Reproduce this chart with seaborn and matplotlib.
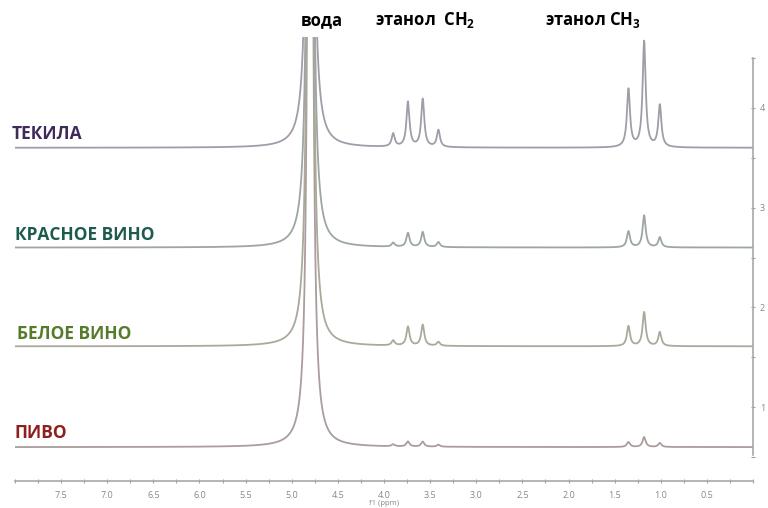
import numpy as np
import pandas as pd
import seaborn as sns
from matplotlib import pyplot as plt
from matplotlib.ticker import MultipleLocator, FormatStrFormatter

# Samples, bottom to top
samples = ['ПИВО', 'БЕЛОЕ ВИНО', 'КРАСНОЕ ВИНО', 'ТЕКИЛА']
baselines = [0.60, 1.61, 2.60, 3.60]
label_colors = ['#8e1f1f', '#577a2c', '#1c5b4e', '#3f2a5c']
trace_colors = ['#aa9d9b', '#aaa99c', '#9ca6a2', '#a29ca9']

# Peak positions (ppm)
water_ppm = 4.80
ch2_ppm = [3.90, 3.74, 3.58, 3.41]
ch3_ppm = [1.35, 1.18, 1.01]

# Peak heights per sample (same order as samples)
water_height = [17.0, 17.0, 17.0, 17.0]
ch2_heights = [
    [0.02, 0.05, 0.05, 0.02],
    [0.05, 0.19, 0.21, 0.04],
    [0.04, 0.14, 0.15, 0.05],
    [0.13, 0.45, 0.48, 0.17],
]
ch3_heights = [
    [0.05, 0.10, 0.04],
    [0.20, 0.34, 0.14],
    [0.16, 0.32, 0.10],
    [0.58, 1.06, 0.42],
]

xtick_vals = [7.5, 7.0, 6.5, 6.0, 5.5, 5.0, 4.5, 4.0, 3.5, 3.0, 2.5, 2.0, 1.5, 1.0, 0.5]
ytick_vals = [1, 2, 3, 4]


def lorentz(x, x0, h, w):
    return h * w ** 2 / ((x - x0) ** 2 + w ** 2)


ppm = np.linspace(0.0, 8.0, 8001)
frames = []
for i, name in enumerate(samples):
    y = np.full_like(ppm, baselines[i])
    y += lorentz(ppm, water_ppm, water_height[i], 0.02)
    for p, h in zip(ch2_ppm, ch2_heights[i]):
        y += lorentz(ppm, p, h, 0.02)
    for p, h in zip(ch3_ppm, ch3_heights[i]):
        y += lorentz(ppm, p, h, 0.02)
    frames.append(pd.DataFrame({'ppm': ppm, 'intensity': y, 'sample': name}))
df = pd.concat(frames, ignore_index=True)

sns.set_theme(style='white')
plt.rcParams['font.family'] = ['Open Sans', 'DejaVu Sans']
plt.rcParams['mathtext.fontset'] = 'custom'
plt.rcParams['mathtext.rm'] = 'Open Sans'
plt.rcParams['mathtext.bf'] = 'Open Sans:bold'

fig = plt.figure(figsize=(7.68, 5.08), dpi=100)
ax = fig.add_axes([0.0195, 0.0531, 0.961, 0.874])

sns.lineplot(data=df, x='ppm', y='intensity', hue='sample', hue_order=samples,
             palette=dict(zip(samples, trace_colors)), estimator=None, sort=False,
             legend=False, linewidth=1.3, ax=ax)

ax.set_xlim(8.0, 0.0)
ax.set_ylim(0.26, 4.71)

for s in ['left', 'top']:
    ax.spines[s].set_visible(False)
ax.spines['right'].set_bounds(0.52, 4.5)
for s in ['right', 'bottom']:
    ax.spines[s].set_color('#a8a8a8')
    ax.spines[s].set_linewidth(1.2)

ax.set_xticks(xtick_vals)
ax.xaxis.set_major_formatter(FormatStrFormatter('%.1f'))
ax.xaxis.set_minor_locator(MultipleLocator(0.25))
ax.yaxis.tick_right()
ax.set_yticks(ytick_vals)
ax.yaxis.set_minor_locator(MultipleLocator(0.5))
ax.tick_params(axis='both', which='both', colors='#a0a0a0', labelcolor='#888888',
               labelsize=6.5, direction='inout', length=3, width=0.8, bottom=True, right=True)
ax.tick_params(axis='x', pad=6)
ax.set_xlabel('f1 (ppm)', fontsize=5.5, color='#888888', labelpad=0)
ax.set_ylabel('')

label_pos = [(14, 433), (17, 334), (15, 235), (12, 134)]
for name, color, (px, py) in zip(samples, label_colors, label_pos):
    fig.text(px / 768, 1 - py / 508, name, color=color, fontsize=12.5, fontweight='bold',
             ha='left', va='center')

fig.text(322 / 768, 1 - 20 / 508, 'вода', fontsize=12, fontweight='bold', color='black',
         ha='center', va='center')
fig.text(375 / 768, 1 - 20 / 508, r'этанол  CH$_\mathbf{2}$', fontsize=12, fontweight='bold',
         color='black', ha='left', va='center')
fig.text(545 / 768, 1 - 20 / 508, r'этанол CH$_\mathbf{3}$', fontsize=12, fontweight='bold',
         color='black', ha='left', va='center')

fig.savefig('out.png', dpi=100, facecolor='white')
